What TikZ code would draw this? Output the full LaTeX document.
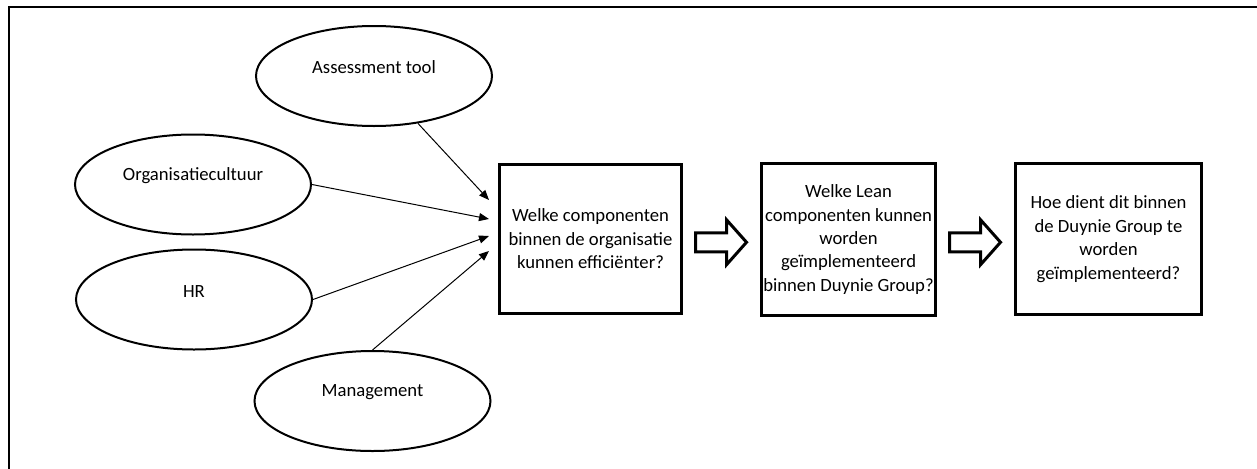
\documentclass[tikz,border=0pt]{standalone}
\usepackage{fontspec}
\setmainfont{Carlito}
\usetikzlibrary{calc,shapes.geometric,arrows.meta}
\tikzset{
  frame/.style={draw=black, line width=1.5pt},
  oval/.style={ellipse, draw=black, line width=1.5pt, minimum width=177pt, minimum height=75pt, inner sep=0pt},
  lab/.style={text=black, font=\fontsize{14}{17.6}\selectfont},
  quest/.style={rectangle, draw=black, line width=2.25pt, align=center, inner sep=0pt, font=\fontsize{14}{17.6}\selectfont},
  feed/.style={draw=black, line width=0.75pt, -{Triangle[length=7.5pt,width=6pt]}},
  fat/.style={draw=black, line width=2.25pt, line join=miter, fill=white},
}

\begin{document}
\begin{tikzpicture}[x=0.75pt,y=-0.75pt]
  \useasboundingbox (0,0) rectangle (1257,468);
  \draw[frame] (1270,7) -| (9,480);
  % ovals on the left
  \node[oval,label={[lab,yshift=7pt]center:Assessment tool}] (ass) at (374,76) {};
  \node[oval,label={[lab,yshift=7pt]center:Organisatiecultuur}] (org) at (193,184.5) {};
  \node[oval,label={[lab,yshift=6pt]center:HR}] (hr) at (194,299.5) {};
  \node[oval,label={[lab,yshift=7pt]center:Management}] (mgmt) at (372.5,401) {};
  % question boxes
  \node[quest,minimum width=136.5pt,minimum height=112pt] (q1) at (590.5,239)
    {Welke componenten\\binnen de organisatie\\kunnen efficiënter?};
  \node[quest,minimum width=130.5pt,minimum height=114pt] (q2) at (848.5,239.5)
    {Welke Lean\\componenten kunnen\\worden\\geïmplementeerd\\binnen Duynie Group?};
  \node[quest,minimum width=139.5pt,minimum height=113pt] (q3) at (1108.5,239)
    {Hoe dient dit binnen\\de Duynie Group te\\worden\\geïmplementeerd?};
  % arrow tips in front of the first box
  \coordinate (t1) at ($(q1.west)+(-9,-39)$);
  \coordinate (t2) at ($(q1.west)+(-9,-20)$);
  \coordinate (t3) at ($(q1.west)+(-9,-3)$);
  \coordinate (t4) at ($(q1.west)+(-9,12)$);
  \draw[feed] (ass) -- (t1);
  \draw[feed] (org.east) -- (t2);
  \draw[feed] (hr.east) -- (t3);
  \draw[feed] (mgmt.north) -- (t4);
  % block arrows between the boxes
  \coordinate (m1) at ($(q1.east)!0.5!(q2.west)$);
  \coordinate (m2) at ($(q2.east)!0.5!(q3.west)$);
  \foreach \m in {m1,m2}
    \draw[fat] ($(\m)+(-26,-6.5)$) -- ++(31,0) -- ++(0,-13) -- ++(20,22.5)
      -- ++(-20,22.5) -- ++(0,-13) -- ++(-31,0) -- cycle;
\end{tikzpicture}
\end{document}
